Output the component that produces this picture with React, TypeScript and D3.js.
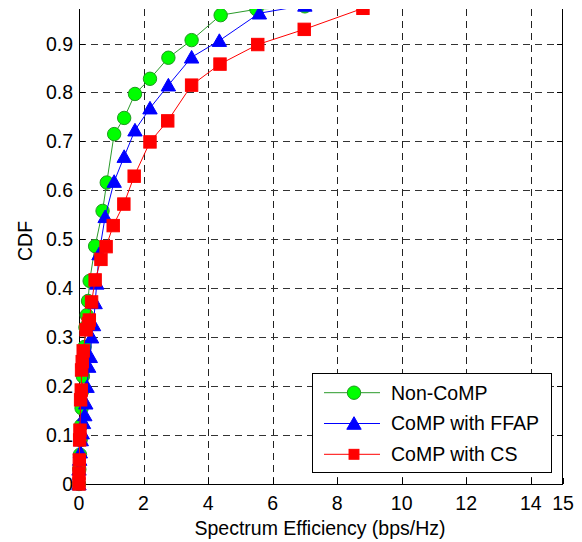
import React from "react";
import * as d3 from "d3";

const xTicks = [0, 2, 4, 6, 8, 10, 12, 14, 15];
const yTicks = [0, 0.1, 0.2, 0.3, 0.4, 0.5, 0.6, 0.7, 0.8, 0.9];
const xGrid = [2, 4, 6, 8, 10, 12, 14];
const yGrid = [0.1, 0.2, 0.3, 0.4, 0.5, 0.6, 0.7, 0.8, 0.9];

const nonCompX = [0, 0.01, 0.03, 0.05, 0.07, 0.08, 0.1, 0.12, 0.14, 0.17, 0.2, 0.24, 0.28, 0.33, 0.5, 0.73, 0.86, 1.09, 1.4, 1.735, 2.2, 2.77, 3.49, 4.39, 5.5, 7.0, 8.8];
const nonCompY = [0, 0.03, 0.06, 0.09, 0.12, 0.155, 0.19, 0.22, 0.25, 0.28, 0.32, 0.345, 0.374, 0.415, 0.486, 0.558, 0.616, 0.715, 0.748, 0.797, 0.828, 0.871, 0.907, 0.958, 0.97, 0.976, 0.99];

const ffapX = [0, 0.0, 0.02, 0.04, 0.07, 0.1, 0.14, 0.18, 0.21, 0.25, 0.3, 0.35, 0.39, 0.45, 0.5, 0.55, 0.62, 0.81, 1.09, 1.4, 1.735, 2.2, 2.77, 3.49, 4.35, 5.59, 7.0, 8.8];
const ffapY = [0, 0.03, 0.05, 0.065, 0.09, 0.104, 0.125, 0.141, 0.165, 0.199, 0.24, 0.26, 0.3, 0.325, 0.37, 0.41, 0.47, 0.546, 0.618, 0.669, 0.723, 0.768, 0.815, 0.872, 0.906, 0.962, 0.978, 0.99];

const csX = [0, 0.0, 0.01, 0.02, 0.03, 0.05, 0.07, 0.08, 0.1, 0.13, 0.22, 0.29, 0.32, 0.39, 0.5, 0.68, 0.84, 1.06, 1.39, 1.71, 2.2, 2.75, 3.49, 4.37, 5.54, 6.98, 8.8];
const csY = [0, 0.022, 0.049, 0.09, 0.11, 0.172, 0.192, 0.233, 0.25, 0.272, 0.315, 0.328, 0.335, 0.372, 0.417, 0.459, 0.485, 0.528, 0.572, 0.629, 0.699, 0.742, 0.815, 0.858, 0.898, 0.929, 0.972];

const seriesNames = ["Non-CoMP", "CoMP with FFAP", "CoMP with CS"];

const W = 582, H = 542;
const L = 79, R = 563, T = 9, B = 484;
const FONT = "'Liberation Sans', Arial, Helvetica, sans-serif";
const FS = 19.5;

const x = d3.scaleLinear().domain([0, 15]).range([L, R]);
const y = d3.scaleLinear().domain([0, 0.9706]).range([B, T]);

type Kind = "circle" | "triangle" | "square";

function Marker({ kind, cx, cy, fill, stroke, size = 1 }: { kind: Kind; cx: number; cy: number; fill: string; stroke: string; size?: number }) {
  if (kind === "circle") return <circle cx={cx} cy={cy} r={6.7 * size} fill={fill} stroke={stroke} strokeWidth={1} />;
  if (kind === "triangle") {
    const w = 7.2 * size, h = 6.8 * size;
    return <path d={`M${cx},${cy - h}L${cx + w},${cy + h * 0.85}L${cx - w},${cy + h * 0.85}Z`} fill={fill} stroke={stroke} strokeWidth={1} />;
  }
  const s = 6.2 * size;
  return <rect x={cx - s} y={cy - s} width={2 * s} height={2 * s} fill={fill} stroke={stroke} strokeWidth={1} />;
}

const seriesDefs = [
  { name: seriesNames[0], xs: nonCompX, ys: nonCompY, line: "#2a9a2a", fill: "#00ff00", edge: "#1f9a1f", kind: "circle" as Kind },
  { name: seriesNames[1], xs: ffapX, ys: ffapY, line: "#0000ff", fill: "#0000ff", edge: "#0000ff", kind: "triangle" as Kind },
  { name: seriesNames[2], xs: csX, ys: csY, line: "#ff0000", fill: "#ff0000", edge: "#ff0000", kind: "square" as Kind },
];

export default function App() {
  const line = d3.line<[number, number]>().x((d) => x(d[0])).y((d) => y(d[1]));
  return (
    <svg width={W} height={H} style={{ position: "absolute", left: 0, top: 0, background: "#fff" }} fontFamily={FONT}>
      <defs>
        <clipPath id="clipTop">
          <rect x={-50} y={T} width={W + 100} height={H} />
        </clipPath>
      </defs>
      <rect x={0} y={0} width={W} height={H} fill="#fff" />
      {xGrid.map((v) => (
        <line key={"gx" + v} x1={Math.round(x(v)) + 0.5} x2={Math.round(x(v)) + 0.5} y1={T} y2={B} stroke="#222" strokeWidth={1} strokeDasharray="7,5" />
      ))}
      {yGrid.map((v) => (
        <line key={"gy" + v} x1={L} x2={R} y1={Math.round(y(v)) + 0.5} y2={Math.round(y(v)) + 0.5} stroke="#333" strokeWidth={1} strokeDasharray="7,5" />
      ))}
      <line x1={L + 0.5} x2={L + 0.5} y1={T} y2={B} stroke="#000" />
      <line x1={R - 0.5} x2={R - 0.5} y1={T} y2={B} stroke="#000" />
      <line x1={L} x2={R} y1={B + 0.5} y2={B + 0.5} stroke="#000" />
      {xTicks.map((v) => (
        <line key={"tx" + v} x1={Math.round(x(v)) + 0.5} x2={Math.round(x(v)) + 0.5} y1={B} y2={B - 6} stroke="#000" />
      ))}
      {yTicks.map((v) => (
        <g key={"ty" + v}>
          <line x1={L} x2={L + 6} y1={Math.round(y(v)) + 0.5} y2={Math.round(y(v)) + 0.5} stroke="#000" />
          <line x1={R} x2={R - 6} y1={Math.round(y(v)) + 0.5} y2={Math.round(y(v)) + 0.5} stroke="#000" />
        </g>
      ))}
      {xTicks.map((v) => (
        <text key={"lx" + v} x={x(v)} y={510} textAnchor="middle" fontSize={FS} fill="#000">{String(v)}</text>
      ))}
      {yTicks.map((v) => (
        <text key={"ly" + v} x={73} y={y(v) + 7} textAnchor="end" fontSize={FS} fill="#000">{v === 0 ? "0" : v.toFixed(1)}</text>
      ))}
      <text x={320} y={535} textAnchor="middle" fontSize={FS} fill="#000">Spectrum Efficiency (bps/Hz)</text>
      <text transform="translate(32,241) rotate(-90)" textAnchor="middle" fontSize={FS} fill="#000">CDF</text>
      <g clipPath="url(#clipTop)">
        {seriesDefs.map((s) => {
          const pts = s.xs.map((v, i) => [v, s.ys[i]] as [number, number]);
          return (
            <g key={s.name}>
              <path d={line(pts) || ""} fill="none" stroke={s.line} strokeWidth={1} />
              {pts.map((p, i) => (
                <Marker key={i} kind={s.kind} cx={x(p[0])} cy={y(p[1])} fill={s.fill} stroke={s.edge} />
              ))}
            </g>
          );
        })}
      </g>
      <rect x={312.5} y={373.5} width={239} height={99} fill="#fff" stroke="#000" strokeWidth={1} />
      {seriesDefs.map((s, i) => {
        const ly = 392.7 + i * 30.8;
        return (
          <g key={"leg" + s.name}>
            <line x1={324} x2={380} y1={ly} y2={ly} stroke={s.line} strokeWidth={1} />
            <Marker kind={s.kind} cx={354} cy={ly} fill={s.fill} stroke={s.edge} size={s.kind === "square" ? 0.8 : 1} />
            <text x={391} y={ly + 6.8} fontSize={FS} fill="#000">{s.name}</text>
          </g>
        );
      })}
    </svg>
  );
}
